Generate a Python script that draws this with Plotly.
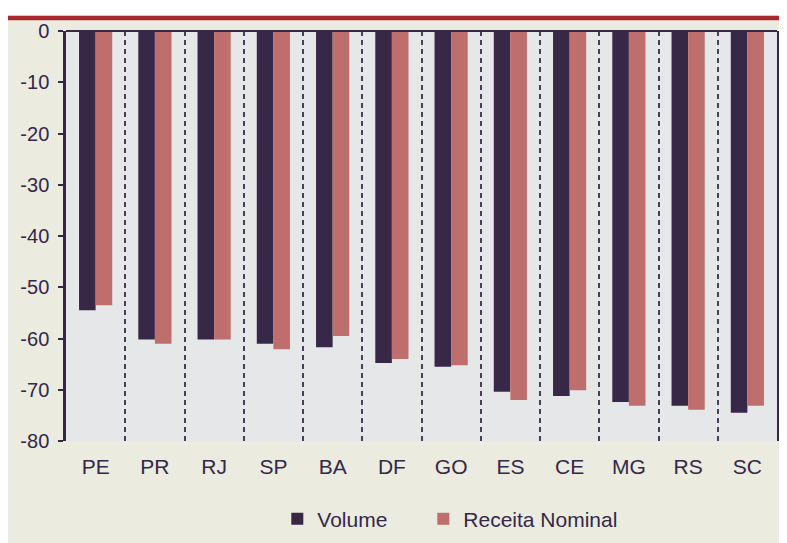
import plotly.graph_objects as go

estados = ["PE", "PR", "RJ", "SP", "BA", "DF", "GO", "ES", "CE", "MG", "RS", "SC"]
volume = [-54.5, -60.2, -60.2, -61.0, -61.7, -64.8, -65.5, -70.4, -71.2, -72.4, -73.1, -74.5]
receita_nominal = [-53.5, -61.0, -60.2, -62.1, -59.5, -64.0, -65.2, -72.0, -70.1, -73.1, -73.9, -73.1]
y_ticks = [0, -10, -20, -30, -40, -50, -60, -70, -80]

DARK = "#372848"
ROSE = "#BE6E6C"
BEIGE = "#ECEBDF"
PLOTBG = "#E6E7E9"
RED = "#A8282D"
TXT = "#33284A"
FONT = "Liberation Sans, Arial, Helvetica, sans-serif"

fig = go.Figure()
fig.add_trace(go.Bar(name="Volume", x=estados, y=volume, legendwidth=101,
                     marker=dict(color=DARK, line=dict(width=0))))
fig.add_trace(go.Bar(name="Receita Nominal", x=estados, y=receita_nominal, legendwidth=180,
                     marker=dict(color=ROSE, line=dict(width=0))))

# figure coordinates (page is offset by the 8px body margin)
W, H = 787, 543
L, R, T, B = 54, 18, 17, 106
pw, ph = W - L - R, H - T - B

def px2x(px):
    return (px - L) / pw

def py2y(py):
    return (H - B - py) / ph

shapes = [
    dict(type="rect", xref="paper", yref="paper", x0=-0.2, x1=1.2,
         y0=py2y(1.3), y1=1.3, fillcolor="white", line=dict(width=0), layer="above"),
    dict(type="rect", xref="paper", yref="paper", x0=-0.2, x1=1.2,
         y0=py2y(6), y1=py2y(1.3), fillcolor=RED, line=dict(width=0), layer="above"),
    dict(type="line", xref="paper", yref="paper", x0=0, x1=1,
         y0=1, y1=1, line=dict(color=DARK, width=2), layer="above"),
]

fig.update_layout(
    width=W, height=H,
    margin=dict(l=L, r=R, t=T, b=B, pad=0),
    paper_bgcolor=BEIGE,
    plot_bgcolor=PLOTBG,
    barmode="group",
    bargap=0.44,
    bargroupgap=0,
    font=dict(family=FONT, color=TXT, size=20),
    showlegend=True,
    legend=dict(orientation="h", x=px2x(266.5), xanchor="left",
                y=py2y(517), yanchor="middle",
                font=dict(family=FONT, size=21, color=TXT),
                itemclick=False, bgcolor="rgba(0,0,0,0)"),
    shapes=shapes,
    xaxis=dict(
        type="category", tickson="boundaries", ticks="",
        showgrid=True, gridcolor="#4A3D5C", gridwidth=1.6, griddash="5px,4px",
        showline=False, zeroline=False,
        tickfont=dict(family=FONT, size=21, color=TXT),
        ticklabelstandoff=11,
    ),
    yaxis=dict(
        range=[-80, 0], tickvals=y_ticks, ticktext=[str(v) for v in y_ticks],
        ticks="outside", ticklen=5, tickwidth=2, tickcolor=DARK,
        showline=True, linecolor=DARK, linewidth=2.5, mirror=True,
        showgrid=False, zeroline=False,
        tickfont=dict(family=FONT, size=20, color=TXT),
        ticklabelstandoff=5,
    ),
)

fig.write_html("out.html", config={"displayModeBar": False})
